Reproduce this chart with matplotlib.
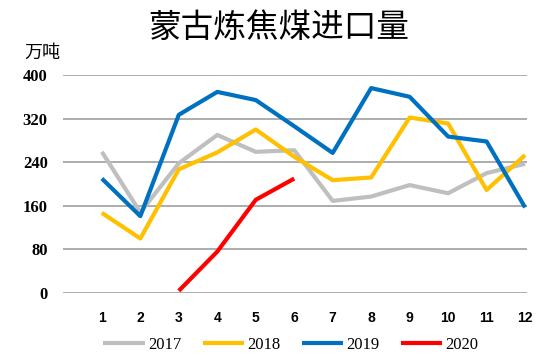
"""Mongolian coking coal imports, monthly, 2017-2020."""
import numpy as np
import matplotlib.pyplot as plt

# -------------------------------------------------------
# Data (10k tonnes).
# -------------------------------------------------------
months = [1, 2, 3, 4, 5, 6, 7, 8, 9, 10, 11, 12]
imports_2017 = [259, 148, 238, 290, 259, 262, 169, 177, 198, 183, 220, 237]
imports_2018 = [147, 100, 227, 258, 300, 250, 207, 212, 322, 311, 189, 253]
imports_2019 = [210, 141, 327, 369, 354, 306, 257, 376, 360, 287, 278, 157]
months_2020 = [3, 4, 5, 6]
imports_2020 = [4, 76, 171, 210]
years = ["2017", "2018", "2019", "2020"]
colors = ["#BFBFBF", "#FFC000", "#0070C0", "#FF0000"]
yticks = [0, 80, 160, 240, 320, 400]

# -------------------------------------------------------
# Plot.
# -------------------------------------------------------
plt.rcParams["font.family"] = ["Noto Sans CJK SC", "DejaVu Sans"]
fig = plt.figure(figsize=(5.5, 3.64), dpi=100)
ax = fig.add_axes([63/550, 1-293/364, 464/550, 218/364])

series = [(months, imports_2017), (months, imports_2018),
          (months, imports_2019), (months_2020, imports_2020)]
for (x, y), year, color in zip(series, years, colors):
    ax.plot(x, y, color=color, lw=3, label=year, solid_capstyle="butt")

ax.set_xlim(-0.01, 12.05)
ax.set_ylim(0, 400)
ax.set_yticks(yticks)
ax.set_yticklabels([str(v) for v in yticks], family="Liberation Serif",
                   fontweight="bold", fontsize=12)
ax.set_xticks(months)
ax.set_xticklabels([str(m) for m in months], family="Liberation Sans",
                   fontweight="bold", fontsize=10)
ax.grid(axis="y", color="#A6A6A6", lw=1.3)
ax.set_axisbelow(True)
for s in ax.spines.values():
    s.set_visible(False)
ax.tick_params(length=0)
ax.tick_params(axis="x", pad=13)
ax.tick_params(axis="y", pad=11)

fig.text(279/550, 1-28/364, "蒙古炼焦煤进口量", ha="center", va="center",
         fontsize=23.5)
fig.text(24/550, 1-53/364, "万吨", ha="left", va="center", fontsize=13)

leg = fig.legend(loc="center", bbox_to_anchor=(291/550, 1-345/364), ncol=4,
                 frameon=False, handlelength=2.5, handletextpad=0.2,
                 columnspacing=1.25,
                 prop={"family": "Liberation Serif", "size": 12})
fig.savefig("out.png", dpi=100)
plt.close()
